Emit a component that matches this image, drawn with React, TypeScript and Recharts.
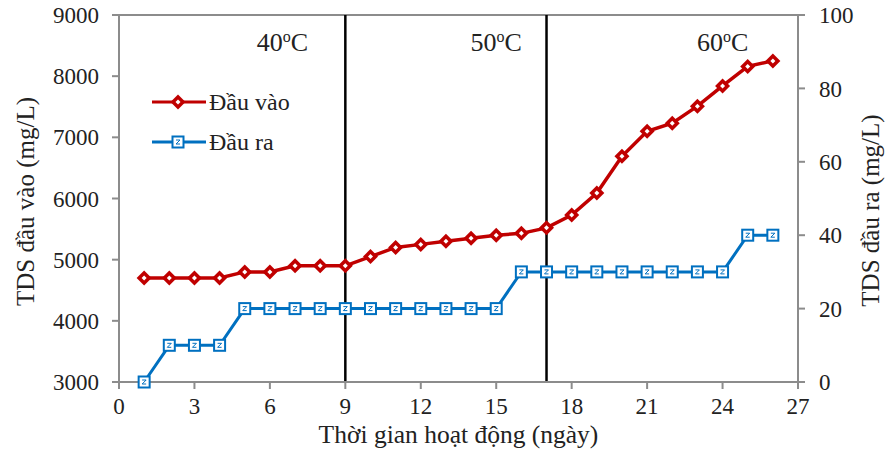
import {
  LineChart,
  Line,
  XAxis,
  YAxis,
  ReferenceLine,
  ReferenceDot,
  Legend,
  Label,
} from "recharts";

const days = [
  1, 2, 3, 4, 5, 6, 7, 8, 9, 10, 11, 12, 13, 14, 15, 16, 17, 18, 19, 20, 21, 22,
  23, 24, 25, 26,
];
const inlet = [
  4700, 4700, 4700, 4700, 4800, 4800, 4900, 4900, 4900, 5050, 5200, 5250, 5300,
  5350, 5400, 5430, 5520, 5730, 6090, 6690, 7100, 7230, 7510, 7840, 8160, 8250,
];
const outlet = [
  0, 10, 10, 10, 20, 20, 20, 20, 20, 20, 20, 20, 20, 20, 20, 30, 30, 30, 30, 30,
  30, 30, 30, 30, 40, 40,
];
const xTicks = [0, 3, 6, 9, 12, 15, 18, 21, 24, 27];
const leftTicks = [3000, 4000, 5000, 6000, 7000, 8000, 9000];
const rightTicks = [0, 20, 40, 60, 80, 100];
const phaseBounds = [9, 17];
const tempLabels = ["40", "50", "60"];
const tempAt = [6.5, 15, 24];
const seriesOrder = ["inlet", "outlet"];

const data = days.map((d, i) => ({ day: d, inlet: inlet[i], outlet: outlet[i] }));

const RED = "#C00000";
const BLUE = "#0070C0";
const AXIS = "#8C8C8C";
const FONT = "'Liberation Serif', 'Times New Roman', serif";

const Diamond = (props: any) => {
  const { cx, cy } = props;
  if (cx == null || cy == null) return null;
  return (
    <g>
      <path d={`M${cx},${cy - 7.5} L${cx + 7.5},${cy} L${cx},${cy + 7.5} L${cx - 7.5},${cy} Z`} fill={RED} />
      <path d={`M${cx},${cy - 2.5} L${cx + 2.5},${cy} L${cx},${cy + 2.5} L${cx - 2.5},${cy} Z`} fill="#fff" />
    </g>
  );
};

const Square = (props: any) => {
  const { cx, cy } = props;
  if (cx == null || cy == null) return null;
  return (
    <g>
      <rect x={cx - 5.5} y={cy - 5.5} width={11} height={11} fill="#fff" stroke={BLUE} strokeWidth={2} />
      <path d={`M${cx - 2},${cy - 2} L${cx + 2},${cy - 2} L${cx - 2},${cy + 2} L${cx + 2},${cy + 2}`} fill="none" stroke={BLUE} strokeWidth={1} />
    </g>
  );
};

const legendContent = (props: any) => {
  const items = [...(props.payload || [])].sort(
    (a: any, b: any) => seriesOrder.indexOf(a.dataKey) - seriesOrder.indexOf(b.dataKey)
  );
  return (
    <div>
      {items.map((p: any, i: number) => (
        <div key={i} style={{ display: "flex", alignItems: "center", height: 40 }}>
          <svg width={58} height={20}>
            <line x1={2} y1={10} x2={56} y2={10} stroke={p.color} strokeWidth={3} />
            {p.dataKey === "inlet" ? <Diamond cx={28} cy={10} /> : <Square cx={28} cy={10} />}
          </svg>
          <span style={{ fontFamily: FONT, fontSize: 24, color: "#222", marginLeft: 1 }}>{p.value}</span>
        </div>
      ))}
    </div>
  );
};

const tempLabel = (t: string) => (props: any) => {
  const { viewBox } = props;
  const x = viewBox.x + viewBox.width / 2;
  const y = viewBox.y + viewBox.height / 2 + 9;
  return (
    <text x={x} y={y} textAnchor="middle" style={{ fontFamily: FONT }} fontSize={26} fill="#222">
      <tspan>{t}</tspan>
      <tspan dy={-9} fontSize={16}>o</tspan>
      <tspan dy={9}>C</tspan>
    </text>
  );
};

// vertical axis title, placed relative to the axis box
const axisTitle = (text: string, side: "left" | "right") => (props: any) => {
  const { viewBox } = props;
  const x = side === "left" ? viewBox.x + 25 : viewBox.x + 72;
  const y = viewBox.y + viewBox.height / 2 + (side === "left" ? 3 : 12);
  return (
    <text
      x={x}
      y={y}
      transform={`rotate(-90, ${x}, ${y})`}
      textAnchor="middle"
      dominantBaseline="central"
      style={{ fontFamily: FONT }}
      fontSize={25}
      fill="#222"
    >
      {text}
    </text>
  );
};

const tickStyle = { fontSize: 23, fill: "#222", style: { fontFamily: FONT } };

export default function App() {
  return (
    <div style={{ position: "absolute", left: 0, top: 0, background: "#fff", fontFamily: FONT }}>
      <LineChart
        width={886}
        height={458}
        data={data}
        margin={{ top: 15, right: 0, bottom: 16, left: 0 }}
        style={{ fontFamily: FONT }}
      >
        <XAxis
          dataKey="day"
          type="number"
          domain={[0, 27]}
          ticks={xTicks}
          stroke={AXIS}
          strokeWidth={2}
          tickSize={7}
          tick={tickStyle}
          tickMargin={9}
          height={60}
        >
          <Label
            value="Thời gian hoạt động (ngày)"
            position="insideBottom"
            offset={-1}
            style={{ fontFamily: FONT, fontSize: 25.5, fill: "#222" }}
          />
        </XAxis>
        <YAxis
          yAxisId="left"
          domain={[3000, 9000]}
          ticks={leftTicks}
          stroke={AXIS}
          strokeWidth={2}
          tickSize={7}
          tick={tickStyle}
          tickMargin={13}
          width={119}
        >
          <Label content={axisTitle("TDS đầu vào (mg/L)", "left")} />
        </YAxis>
        <YAxis
          yAxisId="right"
          orientation="right"
          domain={[0, 100]}
          ticks={rightTicks}
          stroke={AXIS}
          strokeWidth={2}
          tickSize={7}
          tick={tickStyle}
          tickMargin={14}
          width={88}
        >
          <Label content={axisTitle("TDS đầu ra (mg/L)", "right")} />
        </YAxis>
        <ReferenceLine yAxisId="left" y={9000} stroke={AXIS} strokeWidth={2} />
        {phaseBounds.map((b) => (
          <ReferenceLine key={b} yAxisId="left" x={b} stroke="#000" strokeWidth={2.5} />
        ))}
        {tempLabels.map((t, i) => (
          <ReferenceDot
            key={t}
            yAxisId="left"
            x={tempAt[i]}
            y={8560}
            r={0}
            fill="none"
            stroke="none"
            label={tempLabel(t)}
          />
        ))}
        <Legend
          layout="vertical"
          align="center"
          verticalAlign="middle"
          content={legendContent}
          wrapperStyle={{ left: 150, top: 82, width: 220 }}
        />
        <Line
          yAxisId="left"
          dataKey="inlet"
          name="Đầu vào"
          stroke={RED}
          strokeWidth={3.5}
          dot={(p: any) => <Diamond key={p.index} {...p} />}
          activeDot={false}
          isAnimationActive={false}
        />
        <Line
          yAxisId="right"
          dataKey="outlet"
          name="Đầu ra"
          stroke={BLUE}
          strokeWidth={3}
          dot={(p: any) => <Square key={p.index} {...p} />}
          activeDot={false}
          isAnimationActive={false}
        />
      </LineChart>
    </div>
  );
}
